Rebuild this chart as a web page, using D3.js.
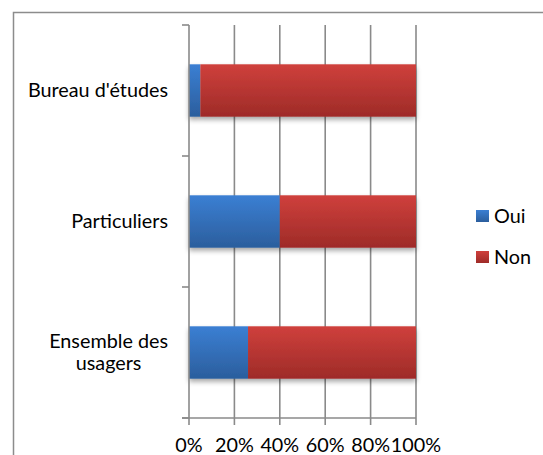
<!DOCTYPE html>
<html>
<head>
<meta charset="utf-8">
<script src="https://cdn.jsdelivr.net/npm/d3@7"></script>
<style>
  html, body { margin: 0; padding: 0; background: #fff; }
  svg { display: block; }
  text { font-family: Lato, "Open Sans", sans-serif; fill: #000; }
</style>
</head>
<body>
<script>
// Share of answers per user group (percent)
const categories = ["Bureau d'études", "Particuliers", "Ensemble des usagers"];
const categoryLines = [["Bureau d'études"], ["Particuliers"], ["Ensemble des", "usagers"]];
const seriesNames = ["Oui", "Non"];
const oui = [5, 40, 26];
const non = [95, 60, 74];
const tickValues = [0, 20, 40, 60, 80, 100];
const tickLabels = ["0%", "20%", "40%", "60%", "80%", "100%"];

const W = 543, H = 455;
const FONT = 19.8;
const plot = { left: 189, right: 416, top: 25, bottom: 418 };

const svg = d3.select("body").append("svg").attr("width", W).attr("height", H);
const defs = svg.append("defs");

function vGrad(id, top, bottom) {
  const g = defs.append("linearGradient").attr("id", id)
    .attr("x1", 0).attr("y1", 0).attr("x2", 0).attr("y2", 1);
  g.append("stop").attr("offset", "0%").attr("stop-color", top);
  g.append("stop").attr("offset", "100%").attr("stop-color", bottom);
}
vGrad("gOui", "#3b7fd3", "#2b5e9d");
vGrad("gNon", "#cf403c", "#9e2b28");

const shadow = defs.append("filter").attr("id", "shadow")
  .attr("x", "-5%").attr("y", "-20%").attr("width", "110%").attr("height", "150%");
shadow.append("feDropShadow").attr("dx", 0).attr("dy", 3).attr("stdDeviation", 2.5)
  .attr("flood-color", "#000").attr("flood-opacity", 0.35);

// chart frame
svg.append("rect").attr("x", 13.5).attr("y", 12.5).attr("width", 620).attr("height", 520)
  .attr("fill", "none").attr("stroke", "#8c8c8c").attr("stroke-width", 1.5);

const x = d3.scaleLinear().domain([0, 100]).range([plot.left, plot.right]);
const y = d3.scaleBand().domain(categories).range([plot.top, plot.bottom])
  .paddingInner(0.6).paddingOuter(0.3);
const yBound = d3.scaleLinear().domain([0, categories.length]).range([plot.top, plot.bottom]);

// vertical gridlines
svg.append("g").selectAll("line").data(tickValues.slice(1)).join("line")
  .attr("x1", d => x(d)).attr("x2", d => x(d))
  .attr("y1", plot.top).attr("y2", plot.bottom)
  .attr("stroke", "#8a8a8a").attr("stroke-width", 1.6);

// stacked bars
const stackData = categories.map((c, i) => ({ cat: c, Oui: oui[i], Non: non[i] }));
const stack = d3.stack().keys(seriesNames)(stackData);
const fills = { Oui: "url(#gOui)", Non: "url(#gNon)" };

const barsG = svg.append("g").attr("filter", "url(#shadow)");
stack.forEach(layer => {
  barsG.append("g").selectAll("rect").data(layer).join("rect")
    .attr("x", d => x(d[0]))
    .attr("width", d => x(d[1]) - x(d[0]))
    .attr("y", d => y(d.data.cat))
    .attr("height", y.bandwidth())
    .attr("fill", fills[layer.key]);
});

// y axis line and category boundary ticks
svg.append("line").attr("x1", plot.left).attr("x2", plot.left)
  .attr("y1", plot.top).attr("y2", plot.bottom)
  .attr("stroke", "#8a8a8a").attr("stroke-width", 1.6);
svg.append("g").selectAll("line").data(d3.range(categories.length + 1)).join("line")
  .attr("x1", plot.left - 7).attr("x2", plot.left)
  .attr("y1", d => yBound(d)).attr("y2", d => yBound(d))
  .attr("stroke", "#8a8a8a").attr("stroke-width", 1.6);

// x axis line and ticks
svg.append("line").attr("x1", plot.left - 7).attr("x2", plot.right)
  .attr("y1", plot.bottom).attr("y2", plot.bottom)
  .attr("stroke", "#8a8a8a").attr("stroke-width", 1.6);
svg.append("g").selectAll("line").data(tickValues).join("line")
  .attr("x1", d => x(d)).attr("x2", d => x(d))
  .attr("y1", plot.bottom).attr("y2", plot.bottom + 7)
  .attr("stroke", "#8a8a8a").attr("stroke-width", 1.6);

// x tick labels
svg.append("g").selectAll("text").data(tickValues).join("text")
  .attr("x", d => x(d)).attr("y", 452)
  .attr("text-anchor", "middle").attr("font-size", FONT)
  .text((d, i) => tickLabels[i]);

// category labels (block right edge at 167, lines centred within block)
const labelRight = 168;
categoryLines.forEach((lines, i) => {
  const cy = y(categories[i]) + y.bandwidth() / 2;
  const g = svg.append("g");
  const lh = 22;
  const t = g.selectAll("text").data(lines).join("text")
    .attr("font-size", FONT)
    .attr("y", (d, k) => cy + 6.5 + (k - (lines.length - 1) / 2) * lh)
    .text(d => d);
  const widths = t.nodes().map(n => n.getComputedTextLength());
  const maxW = d3.max(widths);
  const cx = labelRight - maxW / 2;
  t.attr("x", cx).attr("text-anchor", "middle");
});

// legend
const legend = svg.append("g");
seriesNames.forEach((s, i) => {
  const ly = 210 + i * 41;
  legend.append("rect").attr("x", 476).attr("y", ly).attr("width", 13).attr("height", 12)
    .attr("fill", fills[s]);
  legend.append("text").attr("x", 494).attr("y", ly + 13)
    .attr("font-size", FONT).text(s);
});
</script>
</body>
</html>
